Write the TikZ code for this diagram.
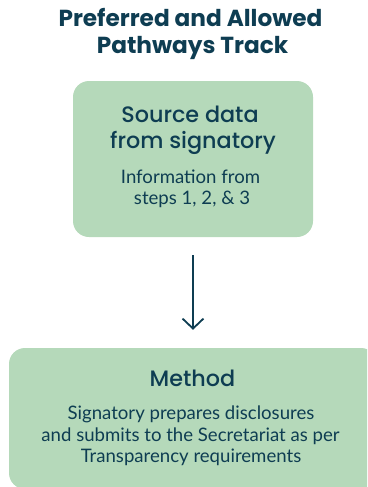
\documentclass[tikz,border=0pt]{standalone}
\usepackage{fontspec}
\setmainfont{Lato}
\newfontfamily\titlefont{Poppins Bold}
\newfontfamily\headfont{Poppins Medium}
\usetikzlibrary{arrows.meta}
\definecolor{ink}{RGB}{14,61,82}
\definecolor{boxgreen}{RGB}{181,217,186}
\tikzset{
  greenbox/.style={fill=boxgreen, draw=none, rounded corners=16pt, inner sep=0pt},
  titletext/.style={text=ink, anchor=base, font=\titlefont\fontsize{23.2}{27}\selectfont},
  headtext/.style={text=ink, anchor=base, font=\headfont\fontsize{22.3}{26}\selectfont},
  bodytext/.style={text=ink, anchor=base, font=\fontsize{18.6}{22}\selectfont},
  flowarrow/.style={draw=ink, line width=1.8pt, -{Straight Barb[length=10pt,width=21pt,line width=1.8pt]}}
}
\begin{document}
\begin{tikzpicture}[x=1pt,y=-1pt]
\useasboundingbox (0,0) rectangle (367,487);
\clip (0,0) rectangle (367,487);
% title
\node[titletext] (t1) at (190.5,27) {Preferred and Allowed};
\node[titletext] (t2) at (192.5,54) {Pathways Track};
% top box
\node[greenbox, minimum width=240pt, minimum height=156pt] (src) at (193,159) {};
\node[headtext] (s1) at (190,122) {Source data};
\node[headtext] (s2) at (193,148) {from signatory};
\node[bodytext] (s3) at (190.5,183) {Information from};
\node[bodytext] (s4) at (192,204) {steps 1, 2, \& 3};
% bottom box
\node[greenbox, minimum width=368pt, minimum height=141pt] (meth) at (193,418.5) {};
\node[headtext] (m1) at (192.5,386) {Method};
\node[bodytext] (m2) at (191,419) {Signatory prepares disclosures};
\node[bodytext] (m3) at (190.5,441.5) {and submits to the Secretariat as per};
\node[bodytext] (m4) at (191,462.5) {Transparency requirements};
% arrow
\draw[flowarrow, shorten <=18pt, shorten >=18pt] (src.south) -- (meth.north);
\end{tikzpicture}
\end{document}
